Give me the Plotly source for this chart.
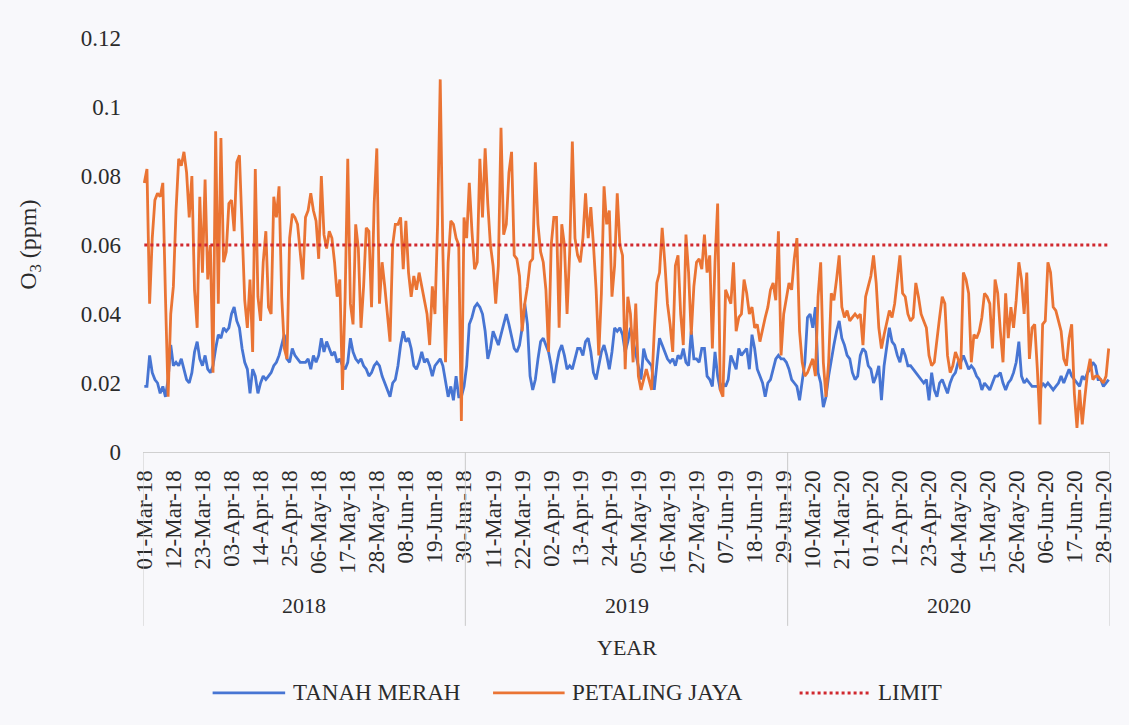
import pandas as pd
import plotly.graph_objects as go

# Daily O3 (ppm), 01 Mar - 30 Jun of each year
YEARS = [2018, 2019, 2020]

tanah_merah_2018 = [
    0.019, 0.019, 0.028, 0.023, 0.021, 0.020, 0.017, 0.019, 0.016, 0.021,
    0.031, 0.025, 0.026, 0.025, 0.027, 0.024, 0.021, 0.020, 0.023, 0.029,
    0.032, 0.027, 0.025, 0.028, 0.024, 0.023, 0.025, 0.030, 0.034, 0.033,
    0.036, 0.035, 0.036, 0.040, 0.042, 0.038, 0.036, 0.030, 0.026, 0.024,
    0.017, 0.024, 0.022, 0.017, 0.020, 0.022, 0.021, 0.022, 0.023, 0.025,
    0.026, 0.028, 0.031, 0.034, 0.027, 0.026, 0.030, 0.028, 0.027, 0.026,
    0.026,
    0.026, 0.027, 0.024, 0.028, 0.026, 0.028, 0.033, 0.029, 0.032, 0.030,
    0.028, 0.029, 0.026, 0.027, 0.025, 0.024, 0.026, 0.033, 0.029, 0.027,
    0.026, 0.027, 0.025, 0.024, 0.022, 0.023, 0.025, 0.026, 0.025, 0.022,
    0.020, 0.018, 0.016, 0.020, 0.021, 0.025, 0.031, 0.035, 0.032, 0.033,
    0.030, 0.025, 0.024, 0.026, 0.029, 0.026, 0.027, 0.025, 0.022, 0.025,
    0.026, 0.027, 0.025, 0.020, 0.016, 0.019, 0.015, 0.022, 0.016, 0.016, 0.019,
]
tanah_merah_2019 = [
    0.025, 0.037, 0.039, 0.042, 0.043, 0.042, 0.040, 0.035, 0.027, 0.030,
    0.035, 0.033, 0.031, 0.034, 0.037, 0.040, 0.037, 0.033, 0.030, 0.029,
    0.031, 0.036, 0.043, 0.037, 0.022, 0.018, 0.021, 0.027, 0.032, 0.033,
    0.031, 0.029, 0.025, 0.020, 0.025, 0.029, 0.031, 0.028, 0.024, 0.025,
    0.024, 0.027, 0.030, 0.030, 0.028, 0.032, 0.033, 0.029, 0.023, 0.021,
    0.025, 0.029, 0.031, 0.028, 0.024, 0.029, 0.036, 0.035, 0.036, 0.034,
    0.029, 0.032, 0.036, 0.032, 0.028, 0.025, 0.021, 0.030, 0.027, 0.026,
    0.025, 0.018, 0.026, 0.033, 0.031, 0.029, 0.027, 0.026, 0.027, 0.025,
    0.028, 0.027, 0.030, 0.026, 0.025, 0.035, 0.027, 0.027, 0.026, 0.030,
    0.030, 0.022, 0.021, 0.019, 0.029, 0.022, 0.018, 0.020, 0.019, 0.021,
    0.028, 0.026, 0.024, 0.030, 0.028, 0.029, 0.030, 0.024, 0.034, 0.030,
    0.024, 0.022, 0.020, 0.016, 0.020, 0.021, 0.024, 0.027, 0.028, 0.027,
    0.027, 0.026,
]
tanah_merah_2020 = [
    0.024, 0.021, 0.020, 0.019, 0.015, 0.020, 0.026, 0.039, 0.040, 0.036,
    0.042, 0.023, 0.020, 0.013, 0.016, 0.022, 0.027, 0.031, 0.035, 0.038,
    0.033, 0.031, 0.028, 0.027, 0.023, 0.021, 0.022, 0.028, 0.030, 0.029,
    0.025, 0.024, 0.020, 0.022, 0.025, 0.015, 0.025, 0.030, 0.036, 0.032,
    0.031, 0.028, 0.026, 0.030, 0.028, 0.025, 0.025, 0.024, 0.023, 0.022,
    0.021, 0.020, 0.021, 0.015, 0.023, 0.018, 0.016, 0.020, 0.021, 0.019,
    0.017, 0.020, 0.022, 0.023, 0.026, 0.026, 0.028, 0.026, 0.024, 0.025,
    0.024, 0.022, 0.021, 0.018, 0.020, 0.019, 0.018, 0.020, 0.022, 0.022,
    0.023, 0.020, 0.018, 0.020, 0.021, 0.023, 0.026, 0.032, 0.022, 0.020,
    0.021, 0.020, 0.019, 0.019, 0.019, 0.018, 0.020, 0.019, 0.020, 0.019,
    0.018, 0.019, 0.020, 0.022, 0.020, 0.022, 0.024, 0.022, 0.021, 0.020,
    0.019, 0.022, 0.021, 0.023, 0.024, 0.026, 0.025, 0.021, 0.021, 0.019,
    0.020, 0.021,
]

petaling_jaya_2018 = [
    0.078, 0.082, 0.043, 0.062, 0.073, 0.075, 0.074, 0.078, 0.045, 0.016,
    0.040, 0.048, 0.070, 0.085, 0.083, 0.087, 0.081, 0.068, 0.080, 0.047,
    0.036, 0.074, 0.052, 0.079, 0.050, 0.060, 0.023, 0.093, 0.043, 0.091,
    0.055, 0.058, 0.072, 0.073, 0.064, 0.084, 0.086, 0.062, 0.044, 0.036,
    0.050, 0.029, 0.082, 0.045, 0.038, 0.055, 0.064, 0.042, 0.040, 0.074,
    0.068, 0.077, 0.045, 0.030, 0.027, 0.062, 0.069, 0.068, 0.066, 0.058,
    0.050,
    0.068, 0.070, 0.075, 0.070, 0.067, 0.056, 0.080, 0.063, 0.059, 0.064,
    0.062, 0.055, 0.045, 0.050, 0.018, 0.045, 0.085, 0.043, 0.037, 0.066,
    0.059, 0.036, 0.048, 0.065, 0.064, 0.042, 0.072, 0.088, 0.043, 0.055,
    0.048, 0.040, 0.032, 0.060, 0.066, 0.066, 0.068, 0.053, 0.067, 0.052,
    0.045, 0.051, 0.047, 0.052, 0.048, 0.045, 0.040, 0.031, 0.048, 0.040,
    0.066, 0.108, 0.058, 0.026, 0.055, 0.067, 0.066, 0.062, 0.060, 0.009, 0.068,
]
petaling_jaya_2019 = [
    0.062, 0.078, 0.064, 0.053, 0.055, 0.085, 0.068, 0.088, 0.072, 0.060,
    0.054, 0.043, 0.054, 0.094, 0.063, 0.066, 0.081, 0.087, 0.057, 0.056,
    0.051, 0.035, 0.043, 0.048, 0.055, 0.056, 0.084, 0.066, 0.058, 0.055,
    0.047, 0.029, 0.060, 0.068, 0.068, 0.036, 0.066, 0.060, 0.040, 0.058,
    0.090, 0.062, 0.057, 0.055, 0.062, 0.075, 0.062, 0.071, 0.060, 0.047,
    0.028, 0.046, 0.077, 0.066, 0.070, 0.045, 0.054, 0.075, 0.060, 0.057,
    0.024, 0.045, 0.040, 0.026, 0.043, 0.022, 0.018, 0.021, 0.024, 0.021,
    0.018, 0.035, 0.049, 0.052, 0.065, 0.055, 0.043, 0.037, 0.029, 0.054,
    0.057, 0.040, 0.031, 0.063, 0.052, 0.034, 0.048, 0.055, 0.056, 0.053,
    0.063, 0.052, 0.057, 0.030, 0.055, 0.072, 0.018, 0.016, 0.047, 0.045,
    0.043, 0.055, 0.035, 0.039, 0.040, 0.050, 0.046, 0.040, 0.042, 0.036,
    0.037, 0.032, 0.036, 0.039, 0.042, 0.047, 0.049, 0.044, 0.064, 0.028,
    0.040, 0.044,
]
petaling_jaya_2020 = [
    0.049, 0.047, 0.056, 0.062, 0.035, 0.026, 0.022, 0.023, 0.025, 0.027,
    0.022, 0.045, 0.055, 0.026, 0.016, 0.026, 0.046, 0.044, 0.050, 0.057,
    0.042, 0.039, 0.041, 0.038, 0.039, 0.040, 0.039, 0.040, 0.031, 0.045,
    0.048, 0.051, 0.057, 0.049, 0.036, 0.030, 0.034, 0.038, 0.041, 0.039,
    0.043, 0.050, 0.057, 0.046, 0.045, 0.040, 0.038, 0.039, 0.049, 0.045,
    0.040, 0.038, 0.036, 0.028, 0.025, 0.026, 0.033, 0.039, 0.045, 0.043,
    0.028, 0.023, 0.025, 0.029, 0.027, 0.024, 0.052, 0.050, 0.046, 0.026,
    0.034, 0.033, 0.035, 0.039, 0.046, 0.045, 0.043, 0.030, 0.050, 0.046,
    0.035, 0.026, 0.046, 0.033, 0.042, 0.036, 0.044, 0.055, 0.050, 0.040,
    0.052, 0.027, 0.036, 0.037, 0.024, 0.008, 0.037, 0.038, 0.055, 0.052,
    0.042, 0.041, 0.038, 0.035, 0.027, 0.025, 0.033, 0.037, 0.017, 0.007,
    0.018, 0.008, 0.016, 0.023, 0.027, 0.021, 0.022, 0.022, 0.021, 0.020,
    0.022, 0.030,
]

LIMIT_PPM = 0.06
TICK_EVERY = 11  # label every 11th day

# Category labels: one per day, Mar-Jun of each year
day_lists = [pd.date_range(f"{y}-03-01", f"{y}-06-30", freq="D") for y in YEARS]
dates = [d for days in day_lists for d in days]
categories = [d.strftime("%d-%b-%y") for d in dates]

tanah_merah = tanah_merah_2018 + tanah_merah_2019 + tanah_merah_2020
petaling_jaya = petaling_jaya_2018 + petaling_jaya_2019 + petaling_jaya_2020
limit = [LIMIT_PPM] * len(categories)

tick_labels = categories[::TICK_EVERY]

SERIF = "Liberation Serif, Times New Roman, serif"
TEXT = "#2b2b2b"
BG = "#F8F8FB"
BLUE = "#4775D3"
ORANGE = "#EA7434"
RED = "#D0282E"

series = [
    ("TANAH MERAH", tanah_merah, dict(color=BLUE, width=2.8)),
    ("PETALING JAYA", petaling_jaya, dict(color=ORANGE, width=2.8)),
    ("LIMIT", limit, dict(color=RED, width=3, dash="dot")),
]

fig = go.Figure()
for name, values, line in series:
    fig.add_trace(go.Scatter(x=categories, y=values, mode="lines", name=name,
                             line=line, showlegend=False))

# Year group labels and separators below the date labels
n_per_year = [len(d) for d in day_lists]
bounds = [-0.5]
for n in n_per_year:
    bounds.append(bounds[-1] + n)

shapes = []
for b in bounds:
    shapes.append(dict(type="line", xref="x", yref="paper", x0=b, x1=b, y0=0, y1=-0.42,
                       line=dict(color="#c9c9c9", width=1)))

annotations = []
for y, lo, hi in zip(YEARS, bounds[:-1], bounds[1:]):
    annotations.append(dict(x=(lo + hi) / 2, xref="x", y=-0.37, yref="paper",
                            text=str(y), showarrow=False, yanchor="middle",
                            font=dict(family=SERIF, size=22, color=TEXT)))
annotations.append(dict(x=0.5, xref="paper", y=-0.473, yref="paper", text="YEAR",
                        showarrow=False, yanchor="middle",
                        font=dict(family=SERIF, size=22, color=TEXT)))
annotations.append(dict(x=-0.117, xref="paper", y=0.5, yref="paper",
                        text="O<sub>3</sub> (ppm)", textangle=-90, showarrow=False,
                        xanchor="center", yanchor="middle",
                        font=dict(family=SERIF, size=24, color=TEXT)))

# Legend row: long line samples followed by the series names
LEGEND_Y = -0.582
legend_slots = [(0.072, 0.147), (0.362, 0.436), (0.679, 0.752)]
for (name, _, line), (x0, x1) in zip(series, legend_slots):
    shapes.append(dict(type="line", xref="paper", yref="paper", x0=x0, x1=x1,
                       y0=LEGEND_Y, y1=LEGEND_Y, line=line))
    annotations.append(dict(x=x1 + 0.006, xref="paper", y=LEGEND_Y, yref="paper",
                            text=name, showarrow=False, xanchor="left", yanchor="middle",
                            font=dict(family=SERIF, size=23, color=TEXT)))

fig.update_layout(
    width=1129, height=725,
    margin=dict(l=143, r=19, t=38, b=273),
    paper_bgcolor=BG, plot_bgcolor=BG,
    font=dict(family=SERIF, color=TEXT),
    shapes=shapes, annotations=annotations,
    showlegend=False,
)
fig.update_xaxes(type="category", categoryorder="array", categoryarray=categories,
                 range=[-0.5, len(categories) - 0.5], automargin=False,
                 tickmode="array", tickvals=tick_labels, ticktext=tick_labels,
                 tickangle=-90, ticks="", showgrid=False, zeroline=False,
                 showline=True, linecolor="#d0d0d0", linewidth=1,
                 tickfont=dict(family=SERIF, size=23, color=TEXT), ticklabelstandoff=8)
fig.update_yaxes(range=[0, 0.12], dtick=0.02, ticks="", showgrid=False, zeroline=False,
                 showline=False, automargin=False,
                 tickfont=dict(family=SERIF, size=23, color=TEXT),
                 ticklabelstandoff=21)

fig.write_html("out.html")
